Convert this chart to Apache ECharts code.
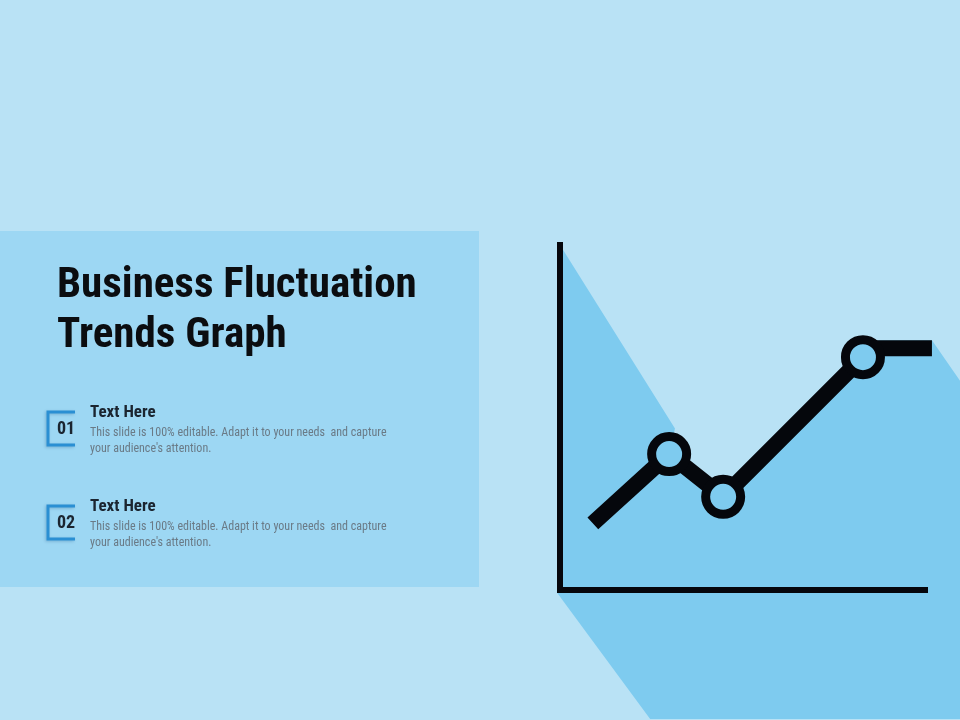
<!DOCTYPE html>
<html>
<head>
<meta charset="utf-8">
<script src="https://cdn.jsdelivr.net/npm/echarts@6/dist/echarts.min.js"></script>
<style>
  html, body { margin: 0; padding: 0; background: #b9e2f5; }
  #main { width: 960px; height: 720px; }
</style>
</head>
<body>
<div id="main"></div>
<script>
// trend line (abstract 0-100 units on both axes)
var lineX = [9.0, 29.9, 44.7, 83.0, 87.1, 101.9];
var lineY = [19.3, 39.4, 27.0, 67.5, 70.1, 70.1];

// the three ringed points
var markX = [29.9, 44.7, 83.0];
var markY = [39.4, 27.0, 67.5];

// long shadow cast down-right by the graph
var shadowX = [0, 31.5, 29.9, 44.7, 83.0, 87.1, 101.9, 101.9, 109.6, 109.6, 24.7, -0.8];
var shadowY = [100, 46.8, 39.4, 27.0, 67.5, 72.4, 72.4, 72.4, 60.6, -37.4, -37.4, -0.8];

var titleLines = ['Business Fluctuation', 'Trends Graph'];
var itemNumbers = ['01', '02'];
var itemHeads = ['Text Here', 'Text Here'];
var itemBody = 'This slide is 100% editable. Adapt it to your needs  and capture\nyour audience\'s attention.';

var narrow = '"Liberation Sans Narrow", "Roboto Condensed", "DejaVu Sans Condensed", sans-serif';

var myChart = echarts.init(document.getElementById('main'));

var graphics = [
  { type: 'rect', shape: { x: 0, y: 231, width: 479, height: 356 }, style: { fill: '#9dd7f3' }, z: 0 }
];
titleLines.forEach(function (t, i) {
  graphics.push({
    type: 'text', x: 57, y: 286 + i * 50,
    style: { text: t, fill: '#0b0d10', font: 'bold 43px ' + narrow, verticalAlign: 'middle' }
  });
});
itemNumbers.forEach(function (n, i) {
  var top = 412 + i * 94;
  graphics.push({
    type: 'polyline',
    shape: { points: [[75, top], [48, top], [48, top + 33], [75, top + 33]] },
    style: { stroke: '#2a8fd3', lineWidth: 3, fill: null, shadowBlur: 3, shadowColor: 'rgba(0,60,110,0.25)', shadowOffsetX: -1, shadowOffsetY: 1 }
  });
  graphics.push({
    type: 'text', x: 66, y: top + 17,
    style: { text: n, fill: '#1b2530', font: 'bold 18px ' + narrow, align: 'center', verticalAlign: 'middle' }
  });
  graphics.push({
    type: 'text', x: 90, y: top + 1,
    style: { text: itemHeads[i], fill: '#1b2530', font: 'bold 17px ' + narrow, verticalAlign: 'middle' }
  });
  graphics.push({
    type: 'text', x: 90, y: top + 13,
    style: { text: itemBody, fill: '#6a7a86', font: '12px ' + narrow, verticalAlign: 'top', lineHeight: 16 }
  });
});

var option = {
  backgroundColor: '#b9e2f5',
  animation: false,
  graphic: graphics,
  grid: { left: 560, top: 245, width: 365, height: 345 },
  xAxis: {
    type: 'value', min: 0, max: 100, z: 6,
    axisLine: { show: true, onZero: false, lineStyle: { color: '#05070c', width: 6, cap: 'square' } },
    axisTick: { show: false }, axisLabel: { show: false }, splitLine: { show: false }
  },
  yAxis: {
    type: 'value', min: 0, max: 100, z: 6,
    axisLine: { show: true, onZero: false, lineStyle: { color: '#05070c', width: 6, cap: 'square' } },
    axisTick: { show: false }, axisLabel: { show: false }, splitLine: { show: false }
  },
  series: [
    {
      type: 'custom',
      z: 1,
      clip: false,
      silent: true,
      data: [0],
      renderItem: function (params, api) {
        var pts = shadowX.map(function (x, i) { return api.coord([x, shadowY[i]]); });
        return { type: 'polygon', shape: { points: pts }, style: { fill: '#7ecbef' } };
      }
    },
    {
      type: 'line',
      z: 3,
      clip: false,
      showSymbol: false,
      data: lineX.map(function (x, i) { return [x, lineY[i]]; }),
      lineStyle: { color: '#05070c', width: 16, cap: 'butt', join: 'miter' }
    },
    {
      type: 'scatter',
      z: 4,
      clip: false,
      symbol: 'circle',
      symbolSize: 35,
      data: markX.map(function (x, i) { return [x, markY[i]]; }),
      itemStyle: { color: '#7ecbef', borderColor: '#05070c', borderWidth: 9, opacity: 1 }
    }
  ]
};

myChart.setOption(option);
</script>
</body>
</html>
